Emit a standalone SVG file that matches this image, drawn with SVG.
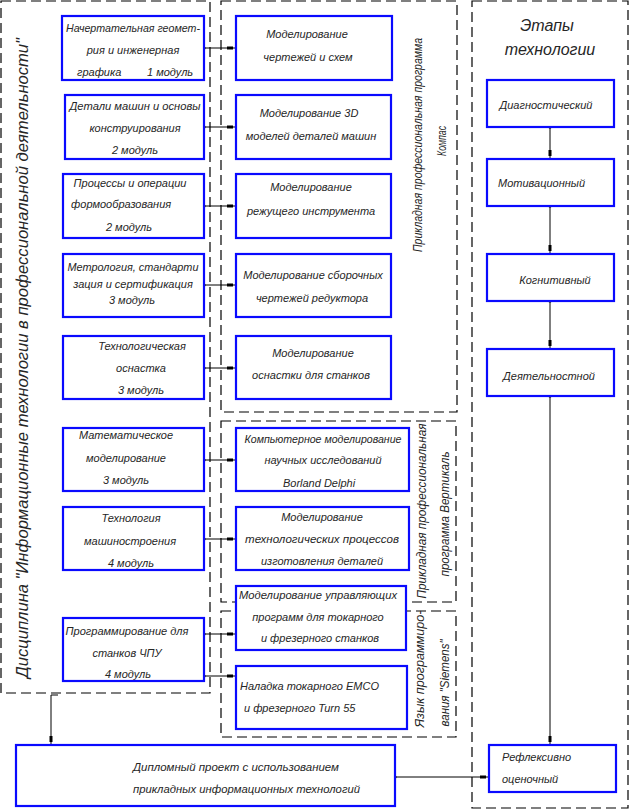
<svg xmlns="http://www.w3.org/2000/svg" width="636" height="812" viewBox="0 0 636 812">
<style>
.frame{fill:none;stroke:#000;stroke-width:1.2;stroke-dasharray:10 5}
.box{fill:#fff;stroke:#0a0aff;stroke-width:2.2}
.t{font-family:"Liberation Sans",Arial,sans-serif;font-style:italic;font-size:11px;fill:#262626;text-anchor:middle}
.s{text-anchor:start}
.big{font-size:16px}
.rot{font-size:12px}
.c{fill:none;stroke:#000;stroke-width:1}
</style>
<defs>
<marker id="dot" markerUnits="userSpaceOnUse" markerWidth="4" markerHeight="4" refX="2" refY="2" orient="auto"><circle cx="2" cy="2" r="1.6" fill="#000"/></marker>
<marker id="sq" markerUnits="userSpaceOnUse" markerWidth="10" markerHeight="4" refX="9" refY="2" orient="auto"><rect x="0" y="0.5" width="6" height="3" fill="#000"/></marker>
</defs>
<rect width="636" height="812" fill="#fff"/>
<g id="frames">
<rect class="frame" x="1" y="1" width="209" height="692"/>
<rect class="frame" x="221" y="1" width="236" height="411"/>
<rect class="frame" x="221" y="421" width="235" height="181"/>
<rect class="frame" x="221" y="611" width="235" height="126"/>
<rect class="frame" x="472" y="1" width="156" height="807"/>
<text class="t big" transform="translate(23,358) rotate(-90)" y="5" textLength="640" lengthAdjust="spacingAndGlyphs">Дисциплина "Информационные технологии в профессиональной деятельности"</text>
<text class="t rot" transform="translate(418,145) rotate(-90)" y="4" textLength="214" lengthAdjust="spacingAndGlyphs">Прикладная профессиональная программа</text>
<text class="t rot" transform="translate(442,141) rotate(-90)" y="4" textLength="30" lengthAdjust="spacingAndGlyphs">Компас</text>
<text class="t rot" transform="translate(422,511) rotate(-90)" y="4" textLength="175" lengthAdjust="spacingAndGlyphs">Прикладная профессиональная</text>
<text class="t rot" transform="translate(445,514) rotate(-90)" y="4" textLength="125" lengthAdjust="spacingAndGlyphs">программа Вертикаль</text>
<text class="t rot" transform="translate(420,669) rotate(-90)" y="4" textLength="117" lengthAdjust="spacingAndGlyphs">Язык программиро-</text>
<text class="t rot" transform="translate(445,683) rotate(-90)" y="4" textLength="87" lengthAdjust="spacingAndGlyphs">вания "Siemens"</text>
<text class="t big" x="547" y="31">Этапы</text>
<text class="t big" x="550" y="55">технологии</text>
</g>
<g id="connectors">
<path class="c" d="M204,48H236" marker-start="url(#dot)" marker-end="url(#sq)"/>
<path class="c" d="M204,127H236" marker-start="url(#dot)" marker-end="url(#sq)"/>
<path class="c" d="M204,206H236" marker-start="url(#dot)" marker-end="url(#sq)"/>
<path class="c" d="M204,285H236" marker-start="url(#dot)" marker-end="url(#sq)"/>
<path class="c" d="M204,368H236" marker-start="url(#dot)" marker-end="url(#sq)"/>
<path class="c" d="M204,460H236" marker-start="url(#dot)" marker-end="url(#sq)"/>
<path class="c" d="M204,539H236" marker-start="url(#dot)" marker-end="url(#sq)"/>
<path class="c" d="M204,634H236" marker-start="url(#dot)" marker-end="url(#sq)"/>
<path class="c" d="M204,676H236" marker-start="url(#dot)" marker-end="url(#sq)"/>
<path class="c" d="M550,127V159" marker-start="url(#dot)" marker-end="url(#sq)"/>
<path class="c" d="M550,206V254" marker-start="url(#dot)" marker-end="url(#sq)"/>
<path class="c" d="M550,301V349" marker-start="url(#dot)" marker-end="url(#sq)"/>
<path class="c" d="M550,396V745" marker-start="url(#dot)" marker-end="url(#sq)"/>
<path class="c" d="M58,695H51V745" marker-end="url(#sq)"/>
<path class="c" d="M395,777H489" marker-start="url(#dot)" marker-end="url(#sq)"/>
</g>
<g id="L1"><rect class="box" x="62" y="16" width="142" height="64"/>
<text class="t" x="133" y="32" textLength="134" lengthAdjust="spacingAndGlyphs">Начертательная геомет-</text><text class="t" x="133" y="54">рия и инженерная</text><text class="t s" y="76"><tspan x="77">графика</tspan><tspan x="147">1 модуль</tspan></text></g>
<g id="L2"><rect class="box" x="65" y="95" width="139" height="64"/>
<text class="t" x="135" y="110" textLength="131" lengthAdjust="spacingAndGlyphs">Детали машин и основы</text><text class="t" x="135" y="132">конструирования</text><text class="t" x="135" y="154">2 модуль</text></g>
<g id="L3"><rect class="box" x="63" y="174" width="141" height="64"/>
<text class="t" x="130" y="187">Процессы и операции</text><text class="t s" x="71" y="208">формообразования</text><text class="t" x="129" y="231">2 модуль</text></g>
<g id="L4"><rect class="box" x="63" y="254" width="141" height="63"/>
<text class="t" x="133" y="271" textLength="131" lengthAdjust="spacingAndGlyphs">Метрология, стандарти</text><text class="t" x="133" y="288">зация и сертификация</text><text class="t" x="132" y="304">3 модуль</text></g>
<g id="L5"><rect class="box" x="63" y="336" width="141" height="63"/>
<text class="t" x="142" y="350">Технологическая</text><text class="t" x="141" y="372">оснастка</text><text class="t" x="141" y="394">3 модуль</text></g>
<g id="L6"><rect class="box" x="63" y="428" width="141" height="63"/>
<text class="t" x="126" y="439">Математическое</text><text class="t" x="126" y="462">моделирование</text><text class="t" x="126" y="484">3 модуль</text></g>
<g id="L7"><rect class="box" x="63" y="507" width="141" height="63"/>
<text class="t" x="131" y="522">Технология</text><text class="t" x="130" y="545">машиностроения</text><text class="t" x="131" y="567">4 модуль</text></g>
<g id="L8"><rect class="box" x="63" y="618" width="141" height="63"/>
<text class="t" x="127" y="635" textLength="123" lengthAdjust="spacingAndGlyphs">Программирование для</text><text class="t" x="127" y="657">станков ЧПУ</text><text class="t" x="128" y="678">4 модуль</text></g>
<g id="M1"><rect class="box" x="236" y="16" width="156" height="64"/>
<text class="t" x="307" y="38">Моделирование</text><text class="t" x="308" y="61">чертежей и схем</text></g>
<g id="M2"><rect class="box" x="236" y="95" width="155" height="64"/>
<text class="t" x="309" y="117">Моделирование 3D</text><text class="t" x="311" y="140">моделей деталей машин</text></g>
<g id="M3"><rect class="box" x="236" y="174" width="155" height="64"/>
<text class="t" x="311" y="191">Моделирование</text><text class="t" x="311" y="215">режущего инструмента</text></g>
<g id="M4"><rect class="box" x="236" y="254" width="155" height="63"/>
<text class="t" x="313" y="279">Моделирование сборочных</text><text class="t" x="312" y="302">чертежей редуктора</text></g>
<g id="M5"><rect class="box" x="236" y="336" width="155" height="63"/>
<text class="t" x="313" y="357">Моделирование</text><text class="t" x="311" y="379">оснастки для станков</text></g>
<g id="M6"><rect class="box" x="236" y="428" width="173" height="63"/>
<text class="t" x="323" y="443" textLength="157" lengthAdjust="spacingAndGlyphs">Компьютерное моделирование</text><text class="t" x="323" y="464">научных исследований</text><text class="t" x="319" y="487">Borland Delphi</text></g>
<g id="M7"><rect class="box" x="236" y="507" width="173" height="63"/>
<text class="t" x="322" y="521">Моделирование</text><text class="t" x="322" y="543" textLength="154" lengthAdjust="spacingAndGlyphs">технологических процессов</text><text class="t" x="322" y="565">изготовления деталей</text></g>
<g id="M8"><rect class="box" x="236" y="586" width="170" height="64"/>
<text class="t" x="318" y="599" textLength="158" lengthAdjust="spacingAndGlyphs">Моделирование управляющих</text><text class="t" x="318" y="621">программ для токарного</text><text class="t" x="320" y="642">и фрезерного станков</text></g>
<g id="M9"><rect class="box" x="236" y="666" width="171" height="63"/>
<text class="t s" x="240" y="690">Наладка токарного EMCO</text><text class="t s" x="244" y="712">и фрезерного Turn 55</text></g>
<g id="R1"><rect class="box" x="487" y="80" width="127" height="47"/>
<text class="t" x="546" y="109">Диагностический</text></g>
<g id="R2"><rect class="box" x="487" y="159" width="127" height="47"/>
<text class="t s" x="498" y="187">Мотивационный</text></g>
<g id="R3"><rect class="box" x="487" y="254" width="127" height="47"/>
<text class="t" x="555" y="284">Когнитивный</text></g>
<g id="R4"><rect class="box" x="487" y="349" width="127" height="47"/>
<text class="t" x="549" y="380">Деятельностной</text></g>
<g id="R5"><rect class="box" x="489" y="745" width="127" height="47"/>
<text class="t s" x="502" y="761">Рефлексивно</text><text class="t s" x="502" y="783">оценочный</text></g>
<g id="D"><rect class="box" x="16" y="745" width="379" height="61"/>
<text class="t s" x="133" y="771" textLength="206" lengthAdjust="spacingAndGlyphs">Дипломный проект с использованием</text><text class="t s" x="133" y="793" textLength="227" lengthAdjust="spacingAndGlyphs">прикладных информационных технологий</text></g>
</svg>
